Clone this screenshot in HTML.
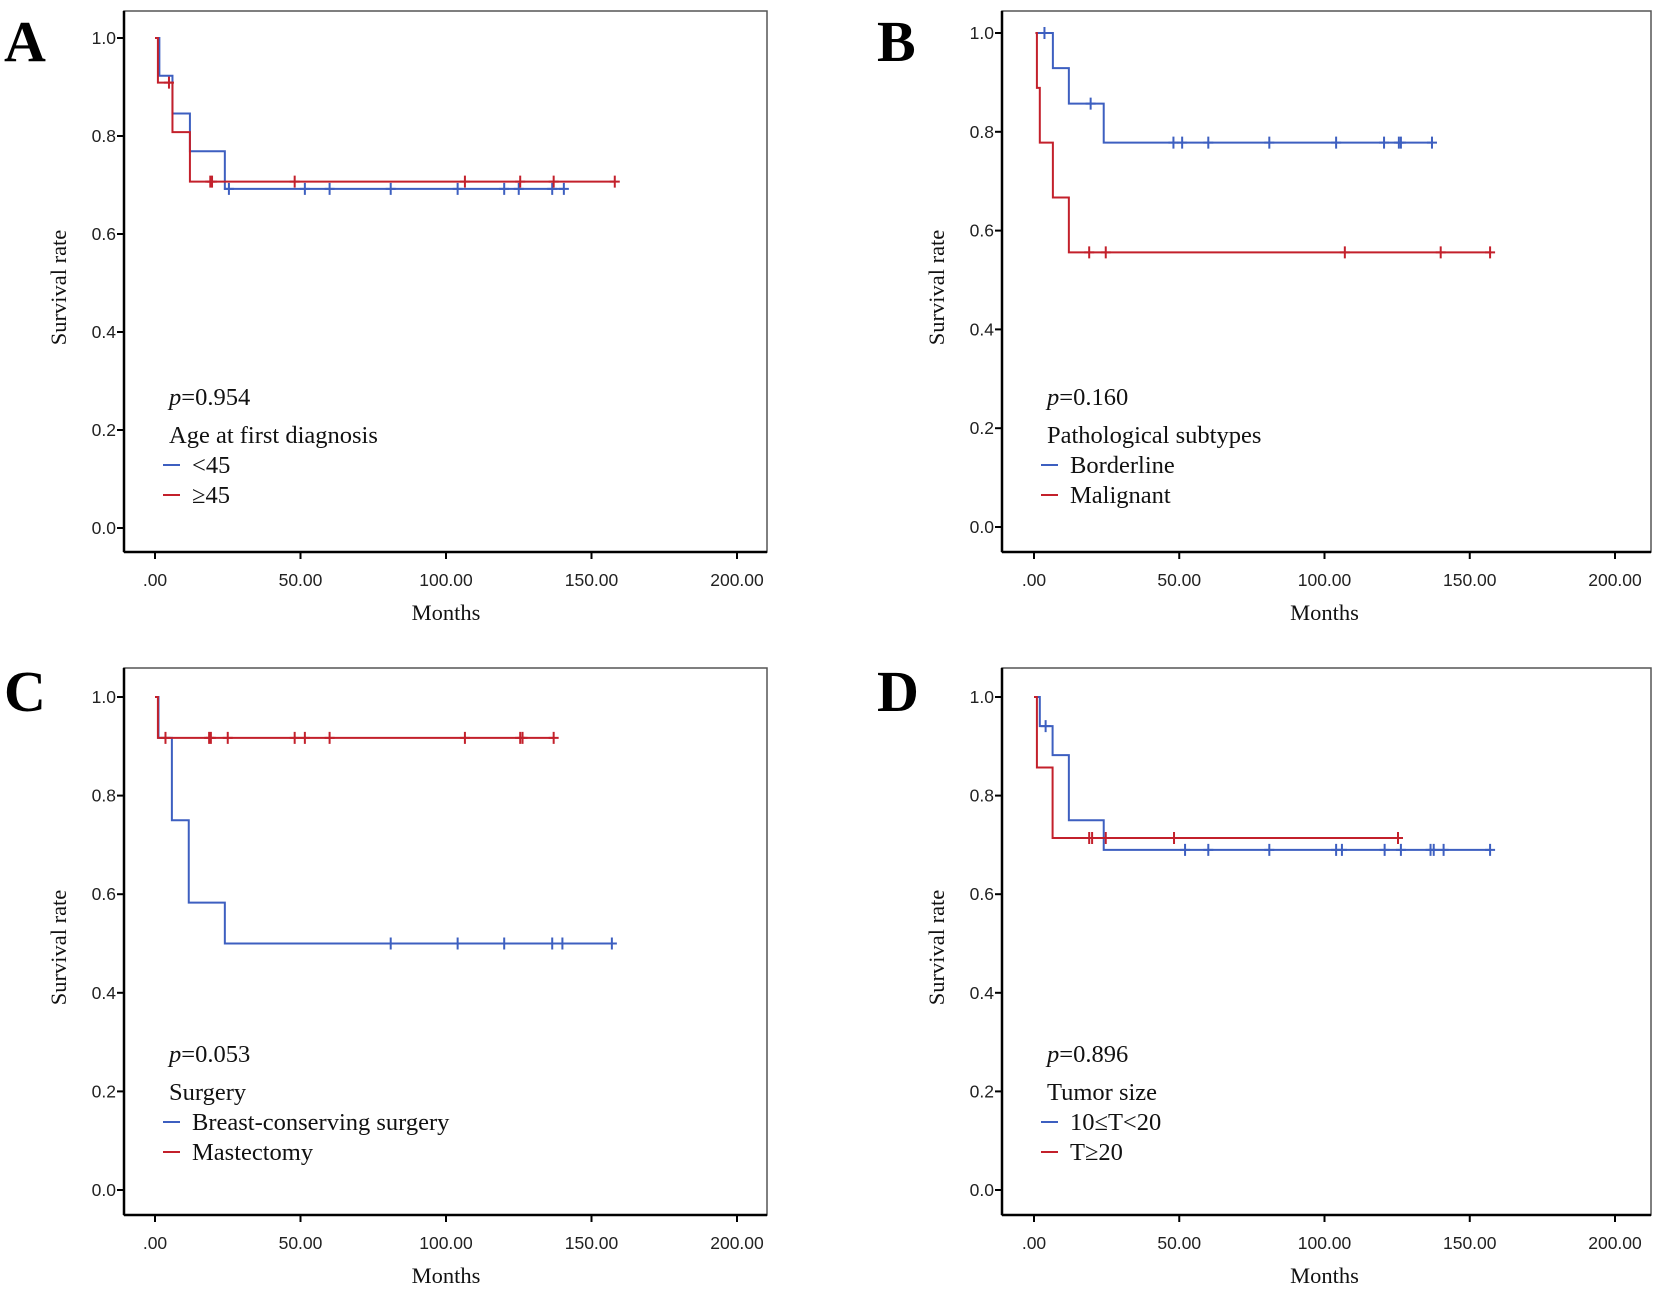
<!DOCTYPE html>
<html><head><meta charset="utf-8"><style>
html,body{margin:0;padding:0;background:#fff;}
svg{display:block;}
.tick{font-family:"Liberation Sans",sans-serif;font-size:17.5px;fill:#222;}
.lab{font-family:"Liberation Serif",serif;font-size:22.5px;fill:#111;}
.leg{font-family:"Liberation Serif",serif;font-size:24.5px;fill:#111;}
.letter{font-family:"Liberation Serif",serif;font-size:58px;font-weight:bold;fill:#000;}
</style></head><body>
<svg id="fig" width="1654" height="1289" viewBox="0 0 1654 1289" xmlns="http://www.w3.org/2000/svg"></svg>
<script>
// ---- data (months, survival) ----
const yTicks = [0.0, 0.2, 0.4, 0.6, 0.8, 1.0];
const yTickLabels = ["0.0","0.2","0.4","0.6","0.8","1.0"];
const xTicks = [0, 50, 100, 150, 200];
const xTickLabels = [".00","50.00","100.00","150.00","200.00"];

// Panel A
const aBlueTimes = [0, 1.5, 6, 12, 24, 140.5];
const aBlueSurv  = [1.0, 0.923, 0.846, 0.769, 0.692, 0.692];
const aBlueCens  = [25.4, 51.5, 60, 81, 104, 120, 125, 136.5, 140.5];
const aRedTimes  = [0, 1, 6, 12, 158];
const aRedSurv   = [1.0, 0.909, 0.808, 0.707, 0.707];
const aRedCens   = [4.8, 19, 19.6, 48, 106.5, 125.5, 137, 158];
// Panel B
const bBlueTimes = [0.5, 6.5, 12, 24, 137];
const bBlueSurv  = [1.0, 0.929, 0.857, 0.778, 0.778];
const bBlueCens  = [3.6, 19.5, 48, 51, 60, 81, 104, 120.5, 125.6, 126.3, 137];
const bRedTimes  = [0.5, 1, 2, 6.5, 12, 157];
const bRedSurv   = [1.0, 0.889, 0.778, 0.667, 0.556, 0.556];
const bRedCens   = [19, 24.7, 107, 140, 157];
// Panel C
const cBlueTimes = [0.5, 1.2, 5.8, 11.6, 24, 157];
const cBlueSurv  = [1.0, 0.917, 0.75, 0.583, 0.5, 0.5];
const cBlueCens  = [81, 104, 120, 136.5, 140, 157];
const cRedTimes  = [0, 1, 137];
const cRedSurv   = [1.0, 0.917, 0.917];
const cRedCens   = [3.6, 18.6, 19.2, 25, 48, 51.5, 60, 106.5, 125.5, 126.3, 137];
// Panel D
const dBlueTimes = [0.5, 2, 6.4, 12, 24, 157];
const dBlueSurv  = [1.0, 0.941, 0.882, 0.75, 0.69, 0.69];
const dBlueCens  = [4, 52, 60, 81, 104, 106, 120.7, 126.3, 136.5, 137.6, 141, 157];
const dRedTimes  = [0, 1, 6.4, 125.3];
const dRedSurv   = [1.0, 0.857, 0.714, 0.714];
const dRedCens   = [19, 20, 24.7, 48.2, 125.3];

const BLUE = "#3d5fc0", RED = "#c3202b";
const NS = "http://www.w3.org/2000/svg";
const svg = document.getElementById("fig");
function mk(tag, attrs, parent, text){
  const e = document.createElementNS(NS, tag);
  for (const k in attrs) e.setAttribute(k, attrs[k]);
  if (text !== undefined) e.textContent = text;
  (parent || svg).appendChild(e);
  return e;
}

const panels = [
  {id:"a", letter:"A", box:[124,11,767,552], x0:155, x200:737, y1:38, y0:528,
   series:[[aBlueTimes,aBlueSurv,aBlueCens,BLUE,"under-45"],[aRedTimes,aRedSurv,aRedCens,RED,"45-plus"]],
   p:"0.954", title:"Age at first diagnosis", l1:"<45", l2:"\u226545"},
  {id:"b", letter:"B", box:[1002,11,1651,552], x0:1034, x200:1615, y1:33, y0:527,
   series:[[bBlueTimes,bBlueSurv,bBlueCens,BLUE,"borderline"],[bRedTimes,bRedSurv,bRedCens,RED,"malignant"]],
   p:"0.160", title:"Pathological subtypes", l1:"Borderline", l2:"Malignant"},
  {id:"c", letter:"C", box:[124,668,767,1215], x0:155, x200:737, y1:697, y0:1190,
   series:[[cBlueTimes,cBlueSurv,cBlueCens,BLUE,"breast-conserving"],[cRedTimes,cRedSurv,cRedCens,RED,"mastectomy"]],
   p:"0.053", title:"Surgery", l1:"Breast-conserving surgery", l2:"Mastectomy"},
  {id:"d", letter:"D", box:[1002,668,1651,1215], x0:1034, x200:1615, y1:697, y0:1190,
   series:[[dBlueTimes,dBlueSurv,dBlueCens,BLUE,"tumor-10-20"],[dRedTimes,dRedSurv,dRedCens,RED,"tumor-20-plus"]],
   p:"0.896", title:"Tumor size", l1:"10\u2264T<20", l2:"T\u226520"}
];

panels.forEach(P => {
  const g = mk("g", {});
  
  
  const X = t => P.x0 + (P.x200 - P.x0) * t / 200;
  const Y = s => P.y0 - (P.y0 - P.y1) * s;
  const [bx0, by0, bx1, by1] = P.box;
  const L = bx0 - 124;

  const letterY = by0 < 100 ? 61 : 711;
  const letter = mk("text", {x: L === 0 ? 4 : 877, y: letterY, class:"letter"}, g, P.letter);
  
  

  const frame = mk("rect", {x:bx0, y:by0, width:bx1-bx0, height:by1-by0, fill:"none", stroke:"#555", "stroke-width":1.5}, g);
  
  
  mk("line", {x1:bx0, y1:by0, x2:bx0, y2:by1, stroke:"#000", "stroke-width":2.5}, g);
  mk("line", {x1:bx0, y1:by1, x2:bx1, y2:by1, stroke:"#000", "stroke-width":2.5}, g);

  yTicks.forEach((v, i) => {
    mk("line", {x1:bx0-7, y1:Y(v), x2:bx0, y2:Y(v), stroke:"#000", "stroke-width":2}, g);
    const t = mk("text", {x:bx0-8, y:Y(v)+6, "text-anchor":"end", class:"tick"}, g, yTickLabels[i]);
    
    
  });
  xTicks.forEach((v, i) => {
    mk("line", {x1:X(v), y1:by1, x2:X(v), y2:by1+7, stroke:"#000", "stroke-width":2}, g);
    const t = mk("text", {x:X(v), y:by1+34, "text-anchor":"middle", class:"tick"}, g, xTickLabels[i]);
    
    
  });
  const xt = mk("text", {x:(P.x0+P.x200)/2, y:by1+68, "text-anchor":"middle", class:"lab"}, g, "Months");
  
  
  const ycx = bx0 - 58, ycy = (by0 + by1) / 2 + 6;
  const yt = mk("text", {x:ycx, y:ycy, "text-anchor":"middle", class:"lab", transform:`rotate(-90 ${ycx} ${ycy})`}, g, "Survival rate");
  
  

  P.series.forEach(([times, surv, cens, col, nm]) => {
    let d = `M${X(times[0])},${Y(surv[0])}`;
    for (let i = 1; i < times.length; i++) {
      d += ` H${X(times[i])} V${Y(surv[i])}`;
    }
    const path = mk("path", {d, fill:"none", stroke:col, "stroke-width":2}, g);
    
    
    cens.forEach(c => {
      let s = surv[0];
      for (let i = 0; i < times.length; i++) if (times[i] <= c) s = surv[i];
      const cx = X(c), cy = Y(s);
      const m = mk("path", {d:`M${cx},${cy-6} V${cy+6} M${cx-5},${cy} H${cx+5}`, stroke:col, "stroke-width":2, fill:"none"}, g);
      
      
    });
  });

  const lx = bx0 + 45, ly = by0 + 394;
  const pt = mk("text", {x:lx, y:ly, class:"leg"}, g);
  
  
  mk("tspan", {"font-style":"italic"}, pt, "p");
  mk("tspan", {}, pt, "=" + P.p);
  const tt = mk("text", {x:lx, y:ly+38, class:"leg"}, g, P.title);
  
  
  [[P.l1, BLUE], [P.l2, RED]].forEach(([lab, col], i) => {
    const yy = ly + 68 + i * 30;
    const e = mk("g", {}, g);
    
    
    mk("line", {x1:lx-6, y1:yy-8, x2:lx+11, y2:yy-8, stroke:col, "stroke-width":2}, e);
    mk("text", {x:lx+23, y:yy, class:"leg"}, e, lab);
  });
});
</script>
</body></html>
